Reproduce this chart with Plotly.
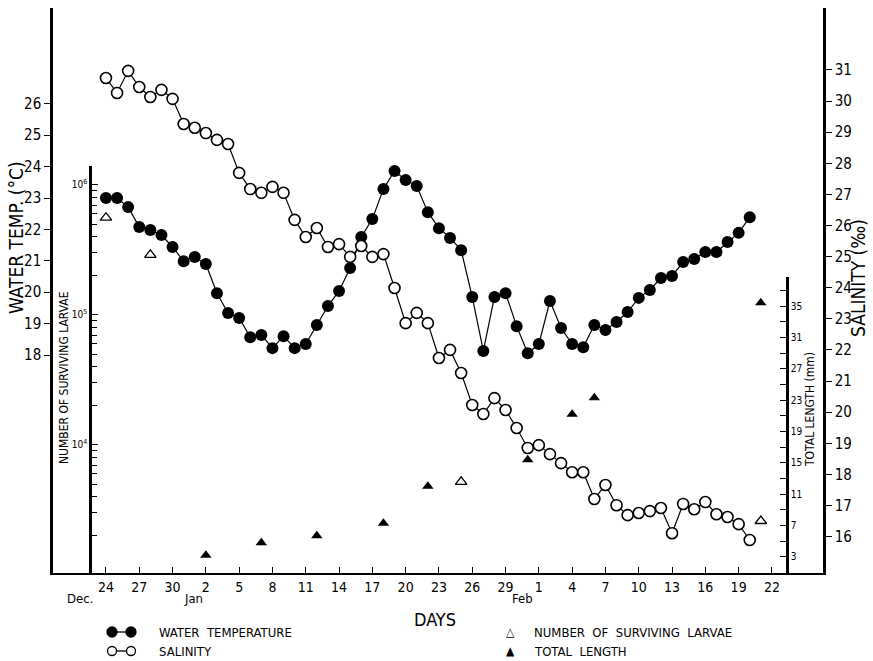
import plotly.graph_objects as go

W, H = 873, 661

# ---------------- data (day 0 = 24 Dec) ----------------
days = list(range(0, 59))
water_temp = [23.0, 23.0, 22.71, 22.08, 21.98, 21.82, 21.44, 20.99, 21.12, 20.90,
              19.97, 19.34, 19.18, 18.57, 18.64, 18.22, 18.60, 18.22, 18.35, 18.96,
              19.56, 20.04, 20.77, 21.76, 22.33, 23.29, 23.86, 23.57, 23.38, 22.55,
              22.04, 21.73, 21.34, 19.85, 18.13, 19.85, 19.97, 18.92, 18.06, 18.35,
              19.72, 18.86, 18.35, 18.25, 18.96, 18.80, 19.05, 19.37, 19.82, 20.07,
              20.45, 20.52, 20.96, 21.06, 21.28, 21.28, 21.60, 21.89, 22.39]
salinity = [30.74, 30.26, 30.97, 30.45, 30.13, 30.36, 30.07, 29.26, 29.14, 28.97,
            28.75, 28.62, 27.69, 27.17, 27.05, 27.24, 27.05, 26.18, 25.63, 25.92,
            25.31, 25.40, 24.99, 25.34, 24.99, 25.08, 23.99, 22.86, 23.19, 22.86,
            21.74, 22.00, 21.26, 20.23, 19.94, 20.45, 20.07, 19.49, 18.85, 18.94,
            18.65, 18.36, 18.07, 18.07, 17.21, 17.66, 17.01, 16.69, 16.76, 16.82,
            16.92, 16.11, 17.05, 16.88, 17.11, 16.72, 16.63, 16.40, 15.89]
larvae_days = [0, 4, 32, 59]
larvae = [5.6e5, 2.9e5, 5.2e3, 2.6e3]
length_days = [9, 14, 19, 25, 29, 38, 42, 44, 59]
total_length = [3.2, 4.8, 5.7, 7.3, 12.0, 15.4, 21.2, 23.3, 35.4]

x_tickvals = [0, 3, 6, 9, 12, 15, 18, 21, 24, 27, 30, 33, 36, 39, 42, 45, 48, 51, 54, 57, 60]
x_ticktext = ["24", "27", "30", "2", "5", "8", "11", "14", "17", "20", "23", "26", "29",
              "1", "4", "7", "10", "13", "16", "19", "22"]
temp_ticks = [18, 19, 20, 21, 22, 23, 24, 25, 26]
sal_ticks = list(range(16, 32))
larvae_ticks = [1e4, 1e5, 1e6]
larvae_ticktext = ["10<sup>4</sup>", "10<sup>5</sup>", "10<sup>6</sup>"]
length_ticks = [3, 7, 11, 15, 19, 23, 27, 31, 35]

FONT = "DejaVu Sans Condensed, Liberation Sans Narrow, DejaVu Sans, sans-serif"


def px(x):
    return x / W


def py(y):
    return 1 - y / H


fig = go.Figure()

fig.add_trace(go.Scatter(x=days, y=water_temp, mode="lines+markers", yaxis="y",
                         line=dict(color="black", width=1.2),
                         marker=dict(symbol="circle", size=12, color="black"),
                         showlegend=False, cliponaxis=False))
fig.add_trace(go.Scatter(x=days, y=salinity, mode="lines+markers", yaxis="y2",
                         line=dict(color="black", width=1.2),
                         marker=dict(symbol="circle", size=11, color="white",
                                     line=dict(color="black", width=1.6)),
                         showlegend=False, cliponaxis=False))
fig.add_trace(go.Scatter(x=larvae_days, y=larvae, mode="markers", yaxis="y3",
                         marker=dict(symbol="triangle-up-open", size=10, color="black",
                                     line=dict(width=1.3)),
                         showlegend=False, cliponaxis=False))
fig.add_trace(go.Scatter(x=length_days, y=total_length, mode="markers", yaxis="y4",
                         marker=dict(symbol="triangle-up", size=10, color="black"),
                         showlegend=False, cliponaxis=False))

ydom = [py(573), py(8)]

fig.update_layout(
    width=W, height=H,
    margin=dict(l=0, r=0, t=0, b=0),
    paper_bgcolor="white", plot_bgcolor="rgba(0,0,0,0)",
    font=dict(family=FONT, color="black", size=13),
    xaxis=dict(domain=[px(53), px(823)], range=[-4.77, 64.6],
               tickvals=x_tickvals, ticktext=x_ticktext,
               ticks="inside", ticklen=6, tickcolor="black",
               showline=True, linecolor="black", linewidth=2,
               showgrid=False, zeroline=False, anchor="y",
               tickfont=dict(size=14)),
    yaxis=dict(domain=ydom, range=[11.06, 29.05], tickvals=temp_ticks,
               ticks="outside", ticklen=6, tickcolor="black",
               showline=True, linecolor="black", linewidth=2.5,
               showgrid=False, zeroline=False, anchor="x",
               tickfont=dict(size=15)),
    yaxis2=dict(range=[14.83, 32.99], tickvals=sal_ticks, overlaying="y", side="right",
                ticks="outside", ticklen=6, tickcolor="black",
                showline=True, linecolor="black", linewidth=2.5,
                showgrid=False, zeroline=False, anchor="x",
                tickfont=dict(size=15)),
    yaxis3=dict(domain=[py(573), py(166)], type="log", range=[3.015, 6.146],
                tickvals=larvae_ticks, ticktext=larvae_ticktext,
                ticks="inside", ticklen=6, tickcolor="black",
                minor=dict(ticks="inside", ticklen=5, tickcolor="black", dtick="D1"),
                showline=True, linecolor="black", linewidth=2.5,
                showgrid=False, zeroline=False, anchor="free", position=px(90),
                side="left", tickfont=dict(size=10)),
    yaxis4=dict(domain=[py(573), py(277)], range=[0.94, 38.7],
                tickvals=length_ticks, ticks="inside", ticklen=6, tickcolor="black",
                minor=dict(ticks="inside", ticklen=6, tickcolor="black", tick0=1, dtick=2),
                showline=True, linecolor="black", linewidth=2.5,
                showgrid=False, zeroline=False, anchor="free", position=px(787),
                side="right", tickfont=dict(size=10)),
)

ann = []


def text(x, y, t, size=13, angle=0, xanchor="center", yanchor="middle"):
    ann.append(dict(x=px(x), y=py(y), xref="paper", yref="paper", text=t,
                    showarrow=False, textangle=angle, xanchor=xanchor, yanchor=yanchor,
                    font=dict(size=size, family=FONT, color="black")))


text(16, 238, "WATER TEMP. (°C)", size=19, angle=-90)
text(858, 278, "SALINITY (‰)", size=19, angle=-90)
text(64, 378, "NUMBER OF SURVIVING LARVAE", size=12, angle=-90)
text(810, 410, "TOTAL LENGTH (mm)", size=12, angle=-90)
text(80, 598, "Dec.", size=13)
text(193, 598, "Jan", size=13)
text(522, 598, "Feb", size=13)
text(435, 619, "DAYS", size=18)

text(157, 632, "WATER  TEMPERATURE", size=13, xanchor="left")
text(157, 651, "SALINITY", size=13, xanchor="left")
text(510, 632, "△", size=12)
text(510, 651, "▲", size=12)
text(532, 632, "NUMBER  OF  SURVIVING  LARVAE", size=13, xanchor="left")
text(532, 651, "TOTAL  LENGTH", size=13, xanchor="left")

shapes = []
for yy, filled in [(632, True), (651, False)]:
    shapes.append(dict(type="line", xref="paper", yref="paper",
                       x0=px(112), x1=px(131), y0=py(yy), y1=py(yy),
                       line=dict(color="black", width=1.3)))
    for cx in (112, 131):
        r = 5 if filled else 4.5
        shapes.append(dict(type="circle", xref="paper", yref="paper",
                           x0=px(cx - r), x1=px(cx + r), y0=py(yy + r), y1=py(yy - r),
                           fillcolor="black" if filled else "white",
                           line=dict(color="black", width=1.3)))

fig.update_layout(annotations=ann, shapes=shapes)

fig.write_html("out.html")
